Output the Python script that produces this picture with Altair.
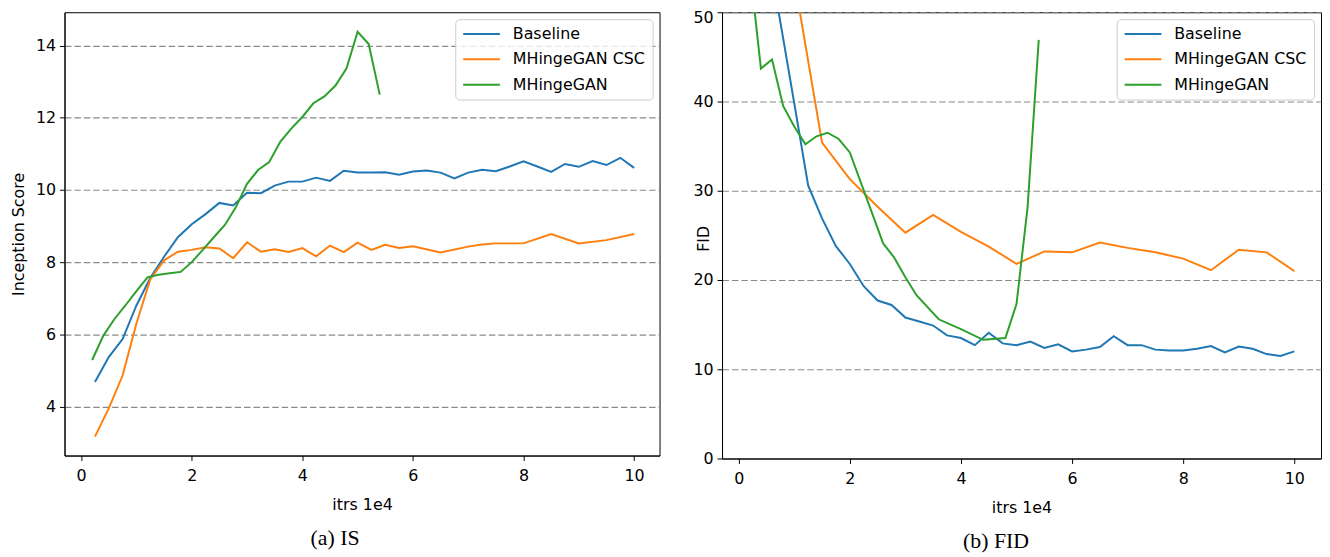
import altair as alt
import pandas as pd

series = ["Baseline", "MHingeGAN CSC", "MHingeGAN"]
colors = ["#1f77b4", "#ff7f0e", "#2ca02c"]

# ---- (a) IS ----
is_base_x = [0.25, 0.5, 0.75, 1.0, 1.25, 1.5, 1.75, 2.0, 2.25, 2.5, 2.75, 3.0, 3.25, 3.5, 3.75, 4.0,
             4.25, 4.5, 4.75, 5.0, 5.25, 5.5, 5.75, 6.0, 6.25, 6.5, 6.75, 7.0, 7.25, 7.5, 7.75, 8.0,
             8.25, 8.5, 8.75, 9.0, 9.25, 9.5, 9.75, 10.0]
is_base_y = [4.68, 5.37, 5.87, 6.8, 7.56, 8.15, 8.69, 9.05, 9.33, 9.64, 9.57, 9.92, 9.91, 10.12, 10.23, 10.23,
             10.34, 10.25, 10.53, 10.48, 10.48, 10.49, 10.42, 10.51, 10.54, 10.48, 10.32, 10.48, 10.56, 10.52, 10.65, 10.79,
             10.65, 10.50, 10.72, 10.64, 10.80, 10.69, 10.89, 10.61]

is_csc_x = [0.25, 0.5, 0.75, 1.0, 1.25, 1.5, 1.75, 2.0, 2.25, 2.5, 2.75, 3.0, 3.25, 3.5, 3.75, 4.0,
            4.25, 4.5, 4.75, 5.0, 5.25, 5.5, 5.75, 6.0, 6.5, 7.0, 7.25, 7.5, 8.0, 8.5, 9.0, 9.5, 10.0]
is_csc_y = [3.17, 3.95, 4.86, 6.3, 7.52, 8.05, 8.29, 8.34, 8.41, 8.38, 8.11, 8.55, 8.29, 8.36, 8.28, 8.39,
            8.16, 8.46, 8.28, 8.54, 8.34, 8.48, 8.39, 8.44, 8.27, 8.43, 8.49, 8.52, 8.52, 8.78, 8.52, 8.61, 8.78]

is_mh_x = [0.2, 0.4, 0.6, 0.8, 1.0, 1.2, 1.4, 1.6, 1.8, 2.0, 2.2, 2.4, 2.6, 2.8, 3.0, 3.2, 3.4, 3.6,
           3.8, 4.0, 4.2, 4.4, 4.6, 4.8, 5.0, 5.2, 5.4]
is_mh_y = [5.29, 5.96, 6.42, 6.8, 7.2, 7.58, 7.65, 7.69, 7.73, 8.0, 8.34, 8.69, 9.03, 9.53, 10.17, 10.55, 10.77, 11.33,
           11.70, 12.02, 12.40, 12.59, 12.89, 13.37, 14.38, 14.04, 12.64]

# ---- (b) FID ----
fid_base_x = [0.5, 0.75, 1.0, 1.25, 1.5, 1.75, 2.0, 2.25, 2.5, 2.75, 3.0, 3.25, 3.5, 3.75, 4.0,
              4.25, 4.5, 4.75, 5.0, 5.25, 5.5, 5.75, 6.0, 6.25, 6.5, 6.75, 7.0, 7.25, 7.5, 7.75, 8.0,
              8.25, 8.5, 8.75, 9.0, 9.25, 9.5, 9.75, 10.0]
fid_base_y = [58.0, 48.9, 39.8, 30.6, 26.9, 23.8, 21.8, 19.3, 17.7, 17.2, 15.8, 15.35, 14.9, 13.8, 13.5,
              12.7, 14.1, 12.9, 12.7, 13.1, 12.4, 12.8, 12.0, 12.2, 12.5, 13.7, 12.7, 12.7, 12.2, 12.1, 12.1,
              12.3, 12.6, 11.9, 12.55, 12.3, 11.7, 11.5, 12.0]

fid_csc_x = [1.0, 1.5, 2.0, 2.5, 3.0, 3.5, 4.0, 4.5, 5.0, 5.5, 6.0, 6.5, 7.0, 7.5, 8.0, 8.5, 9.0, 9.5, 10.0]
fid_csc_y = [53.7, 35.4, 31.3, 28.2, 25.3, 27.3, 25.4, 23.75, 21.8, 23.2, 23.1, 24.2, 23.6, 23.1, 22.4, 21.1,
             23.4, 23.1, 21.0]

fid_mh_x = [0.2, 0.4, 0.6, 0.8, 1.0, 1.2, 1.4, 1.6, 1.8, 2.0, 2.6, 2.8, 3.0, 3.2, 3.6, 4.0, 4.4, 4.8,
            5.0, 5.2, 5.4]
fid_mh_y = [55.0, 43.7, 44.7, 39.5, 37.2, 35.2, 36.1, 36.5, 35.8, 34.3, 24.1, 22.5, 20.3, 18.3, 15.6, 14.5, 13.3,
            13.5, 17.3, 28.2, 46.9]

x_ticks = [0, 2, 4, 6, 8, 10]
is_ticks = [4, 6, 8, 10, 12, 14]
fid_ticks = [0, 10, 20, 30, 40, 50]


def table(groups):
    rows = []
    for name, xs, ys in groups:
        for a, b in zip(xs, ys):
            rows.append({"x": a, "y": b, "series": name})
    return pd.DataFrame(rows)


is_df = table([(series[0], is_base_x, is_base_y),
               (series[1], is_csc_x, is_csc_y),
               (series[2], is_mh_x, is_mh_y)])
fid_df = table([(series[0], fid_base_x, fid_base_y),
                (series[1], fid_csc_x, fid_csc_y),
                (series[2], fid_mh_x, fid_mh_y)])

legend = alt.Legend(
    title=None, orient="top-right", offset=7,
    symbolType="stroke", symbolStrokeWidth=2, symbolSize=1369, clipHeight=16,
    labelFontSize=16, labelFont="DejaVu Sans", labelColor="black", labelOffset=12,
    fillColor="rgba(255,255,255,0.8)", strokeColor="#cccccc", cornerRadius=4,
    padding=7, rowPadding=9.5,
)


def panel(df, xdom, ydom, yticks, ytitle, caption, w, h, cap_dx, ytitle_extra):
    yaxis_kw = dict(values=yticks, title=ytitle, grid=True, gridColor="#8a8a8a",
                    gridDash=[6.5, 3], gridWidth=1.2, titlePadding=9)
    yaxis_kw.update(ytitle_extra)
    return alt.Chart(df).mark_line(strokeWidth=2, clip=True).encode(
        x=alt.X("x:Q", scale=alt.Scale(domain=xdom, nice=False, zero=False),
                axis=alt.Axis(values=x_ticks, title="itrs 1e4", grid=False, titlePadding=13,
                              labelPadding=7, labelFlush=False)),
        y=alt.Y("y:Q", scale=alt.Scale(domain=ydom, nice=False, zero=False),
                axis=alt.Axis(**yaxis_kw)),
        color=alt.Color("series:N", scale=alt.Scale(domain=series, range=colors), legend=legend),
    ).properties(
        width=w, height=h,
        title=alt.TitleParams(caption, orient="bottom", anchor="middle", frame="bounds",
                              font="Liberation Serif", fontSize=22, fontWeight="normal",
                              color="black", offset=16, dx=cap_dx),
    )


left = panel(is_df, [-0.30, 10.46], [2.645, 14.92], is_ticks, "Inception Score", "(a) IS",
             600, 447, 0, {})
right = panel(fid_df, [-0.30, 10.48], [0, 50], fid_ticks, "FID", "(b) FID",
              604, 450, -11, {"titleX": -19, "titleY": 228, "titleBaseline": "middle",
                              "labelOffset": {"condition": {"test": "datum.value === 50", "value": 5},
                                              "value": 0}})

chart = alt.hconcat(left, right, spacing=32).resolve_scale(color="independent").properties(
    padding={"left": 2, "top": -2, "right": 0, "bottom": 0},
    background="white",
).configure_view(stroke="black", strokeWidth=1).configure_axis(
    labelFont="DejaVu Sans", labelFontSize=16, labelColor="black", labelPadding=4,
    titleFont="DejaVu Sans", titleFontSize=16, titleFontWeight="normal", titleColor="black",
    tickColor="black", tickSize=5, tickWidth=1, domainColor="black", domainWidth=1,
)

chart.save("out.html", embed_options={"renderer": "svg", "actions": False})
